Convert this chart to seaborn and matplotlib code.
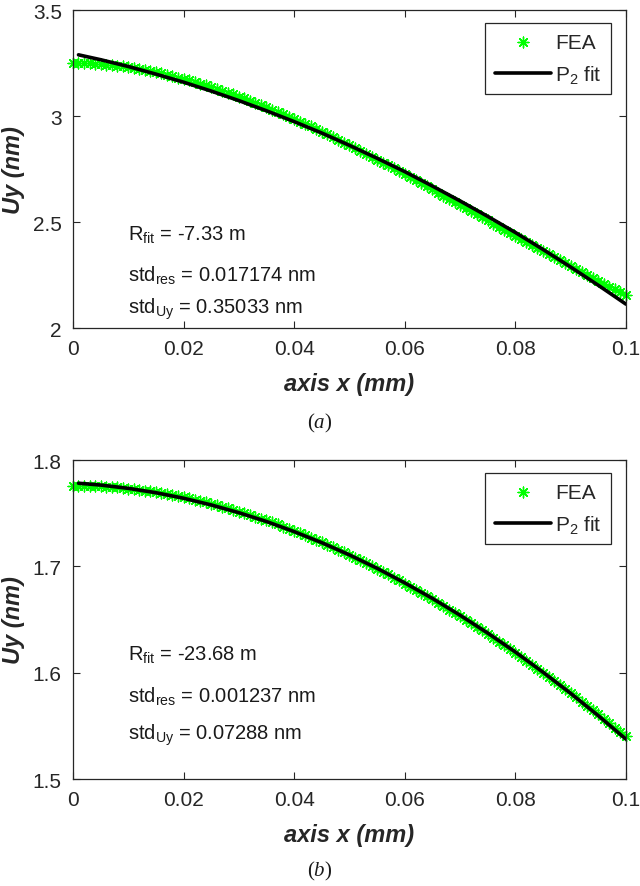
import numpy as np
import pandas as pd
import matplotlib.pyplot as plt
import seaborn as sns

sns.set_theme(style='white')
plt.rcParams['font.family'] = ['Liberation Sans', 'DejaVu Sans']
plt.rcParams['mathtext.fontset'] = 'custom'
plt.rcParams['mathtext.rm'] = 'Liberation Sans'
plt.rcParams['mathtext.it'] = 'Liberation Serif:italic'

# FEA 数据 (x 步长 0.001 mm)
fea_x = [round(0.001 * k, 3) for k in range(101)]
fea_a = [3.251, 3.250, 3.250, 3.249, 3.247, 3.245, 3.243, 3.240, 3.237, 3.234,
         3.230, 3.226, 3.222, 3.217, 3.212, 3.207, 3.201, 3.195, 3.189, 3.182,
         3.176, 3.168, 3.161, 3.153, 3.145, 3.137, 3.129, 3.120, 3.111, 3.102,
         3.092, 3.083, 3.073, 3.063, 3.052, 3.042, 3.031, 3.020, 3.009, 2.998,
         2.986, 2.974, 2.963, 2.951, 2.938, 2.926, 2.914, 2.901, 2.888, 2.875,
         2.862, 2.849, 2.836, 2.822, 2.809, 2.795, 2.781, 2.767, 2.753, 2.739,
         2.725, 2.711, 2.697, 2.682, 2.668, 2.654, 2.639, 2.625, 2.610, 2.596,
         2.581, 2.566, 2.552, 2.537, 2.522, 2.508, 2.493, 2.479, 2.464, 2.449,
         2.435, 2.420, 2.406, 2.391, 2.377, 2.362, 2.348, 2.334, 2.320, 2.306,
         2.292, 2.278, 2.264, 2.250, 2.237, 2.223, 2.210, 2.196, 2.183, 2.170,
         2.157]
fea_b = [1.7760, 1.7760, 1.7759, 1.7757, 1.7756, 1.7753, 1.7749, 1.7746, 1.7742, 1.7737,
         1.7732, 1.7727, 1.7720, 1.7712, 1.7706, 1.7698, 1.7689, 1.7680, 1.7671, 1.7660,
         1.7650, 1.7639, 1.7627, 1.7614, 1.7603, 1.7589, 1.7575, 1.7561, 1.7547, 1.7532,
         1.7516, 1.7500, 1.7484, 1.7466, 1.7449, 1.7432, 1.7413, 1.7394, 1.7374, 1.7355,
         1.7334, 1.7313, 1.7293, 1.7271, 1.7249, 1.7227, 1.7204, 1.7180, 1.7156, 1.7132,
         1.7108, 1.7082, 1.7058, 1.7031, 1.7005, 1.6978, 1.6951, 1.6924, 1.6895, 1.6868,
         1.6838, 1.6809, 1.6780, 1.6750, 1.6720, 1.6689, 1.6658, 1.6627, 1.6594, 1.6562,
         1.6530, 1.6497, 1.6464, 1.6431, 1.6397, 1.6362, 1.6327, 1.6293, 1.6257, 1.6221,
         1.6186, 1.6150, 1.6112, 1.6075, 1.6038, 1.6000, 1.5962, 1.5925, 1.5886, 1.5847,
         1.5808, 1.5769, 1.5729, 1.5689, 1.5649, 1.5608, 1.5566, 1.5526, 1.5484, 1.5442,
         1.5400]

# P2 拟合曲线
fit_x = [0.001, 0.005, 0.01, 0.015, 0.02, 0.025, 0.03, 0.035, 0.04, 0.045, 0.05,
         0.055, 0.06, 0.065, 0.07, 0.075, 0.08, 0.085, 0.09, 0.095, 0.1]
fit_a = [3.289, 3.266, 3.234, 3.198, 3.160, 3.118, 3.073, 3.025, 2.974, 2.920, 2.862,
         2.801, 2.738, 2.670, 2.600, 2.527, 2.451, 2.371, 2.288, 2.202, 2.113]
fit_b = [1.7782, 1.7765, 1.7734, 1.7693, 1.7641, 1.7578, 1.7505, 1.7422, 1.7327, 1.7223,
         1.7108, 1.6982, 1.6845, 1.6699, 1.6541, 1.6373, 1.6195, 1.6005, 1.5806, 1.5596,
         1.5375]

xticks = [0, 0.02, 0.04, 0.06, 0.08, 0.1]
xticklabels = ['0', '0.02', '0.04', '0.06', '0.08', '0.1']
yticks_a = [2, 2.5, 3, 3.5]
yticklabels_a = ['2', '2.5', '3', '3.5']
yticks_b = [1.5, 1.6, 1.7, 1.8]
yticklabels_b = ['1.5', '1.6', '1.7', '1.8']

stats_a = [r'R$_{\mathrm{fit}}$ = -7.33 m',
           r'std$_{\mathrm{res}}$ = 0.017174 nm',
           r'std$_{\mathrm{Uy}}$ = 0.35033 nm']
stats_b = [r'R$_{\mathrm{fit}}$ = -23.68 m',
           r'std$_{\mathrm{res}}$ = 0.001237 nm',
           r'std$_{\mathrm{Uy}}$ = 0.07288 nm']

axis_col = '#262626'
fig = plt.figure(figsize=(6.4, 8.87), dpi=100)
ax_a = fig.add_axes([0.114, 0.629, 0.864, 0.3585])
ax_b = fig.add_axes([0.114, 0.1206, 0.864, 0.3596])

panels = [
    (ax_a, fea_a, fit_a, yticks_a, yticklabels_a, stats_a, [0.280, 0.151, 0.046], 0.51, '($a$)'),
    (ax_b, fea_b, fit_b, yticks_b, yticklabels_b, stats_b, [0.376, 0.245, 0.125], 0.004, '($b$)'),
]

for ax, fea, fit, yt, ytl, stats, ypos, cap_y, cap in panels:
    df_fea = pd.DataFrame({'x': fea_x, 'y': fea})
    df_fit = pd.DataFrame({'x': fit_x, 'y': fit})
    sns.scatterplot(data=df_fea, x='x', y='y', ax=ax, marker=(8, 2, 0), s=60,
                    color='#00ff00', linewidth=1.0, label='FEA', clip_on=False, zorder=2)
    sns.lineplot(data=df_fit, x='x', y='y', ax=ax, color='black', linewidth=2.6,
                 label='P$_2$ fit', zorder=3)
    ax.set_xlim(0, 0.1)
    ax.set_ylim(yt[0], yt[-1])
    ax.set_xticks(xticks)
    ax.set_xticklabels(xticklabels)
    ax.set_yticks(yt)
    ax.set_yticklabels(ytl)
    ax.tick_params(direction='in', length=5, width=0.8, colors=axis_col,
                   labelsize=15, pad=8, top=True, right=True, bottom=True, left=True)
    for sp in ax.spines.values():
        sp.set_color(axis_col)
        sp.set_linewidth(0.9)
    ax.set_xlabel('axis x (mm)', fontsize=17, fontweight='bold', style='italic',
                  color=axis_col, labelpad=10)
    ax.set_ylabel('Uy (nm)', fontsize=17, fontweight='bold', style='italic',
                  color=axis_col, labelpad=6)
    for s, yy in zip(stats, ypos):
        ax.text(0.0995, yy, s, transform=ax.transAxes, fontsize=14.5,
                color='#1a1a1a', va='baseline', ha='left')
    leg = ax.legend(loc='upper right', bbox_to_anchor=(0.973, 0.959), fontsize=15,
                    frameon=True, fancybox=False, framealpha=1, edgecolor=axis_col,
                    handlelength=2.7, handletextpad=0.2, borderpad=0.45,
                    labelspacing=0.55, borderaxespad=0)
    leg.get_frame().set_linewidth(0.9)
    fig.text(0.5, cap_y, cap, ha='center', va='bottom',
             fontsize=15, family='Liberation Serif', color='#1a1a1a')

fig.savefig('out.png', dpi=100)
plt.close(fig)
